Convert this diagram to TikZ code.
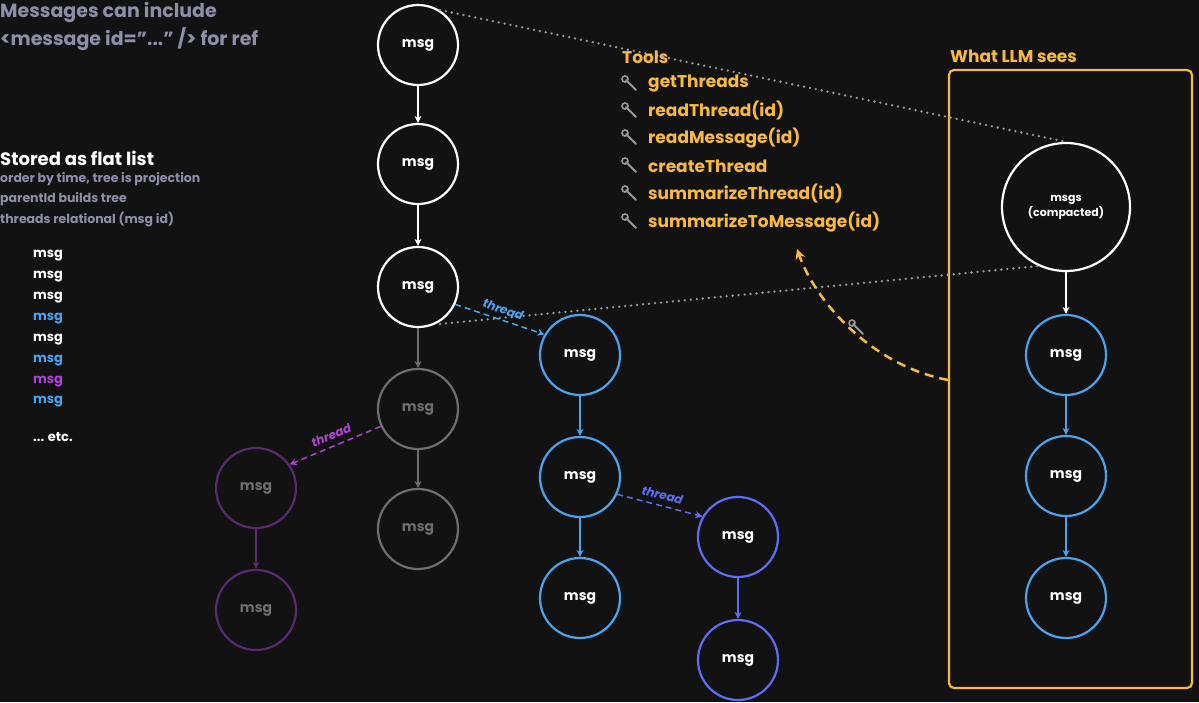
\documentclass[tikz,border=0pt]{standalone}
\usepackage{fontspec}
\setmainfont{Poppins}
\usetikzlibrary{arrows.meta}
\definecolor{bg}{HTML}{121212}
\definecolor{wh}{HTML}{FFFFFF}
\definecolor{gr}{HTML}{6E6E6E}
\definecolor{pu}{HTML}{5A2A6E}
\definecolor{bl}{HTML}{4AA3F0}
\definecolor{ind}{HTML}{5B6EF5}
\definecolor{yl}{HTML}{F9B93A}
\definecolor{sl}{HTML}{8E8EAA}
\definecolor{mg}{HTML}{B040D8}
\begin{document}
\begin{tikzpicture}[x=1pt,y=-1pt,
  m/.style={circle,draw=#1,line width=2.2pt,minimum size=80pt,inner sep=0pt,font=\bfseries\fontsize{14}{16}\selectfont,text=wh,fill=bg},
  ar/.style={draw=#1,line width=1.5pt,-{Stealth[length=7pt,width=7pt]}},
  th/.style={draw=#1,line width=1.5pt,dashed,dash pattern=on 6pt off 4pt,-{Stealth[length=7pt,width=7pt]}},
  dt/.style={draw=gray!80,line width=2.6pt,dash pattern=on 0pt off 6pt,line cap=round},
  tl/.style={font=\bfseries\fontsize{13}{15}\selectfont,text=#1},
  txt/.style={anchor=west,inner sep=0pt},
  wr/.pic={\draw[gray!80,line width=2pt,line cap=round] (-4,-4)--(6,6); \draw[gray!80,line width=1.6pt] (-5,-5) circle (3pt);}]
\fill[bg] (0,0) rectangle (1199,702);
\useasboundingbox (0,0) rectangle (1199,702);
% dotted
\coordinate (d1) at (440,10);
\coordinate (d3) at (440,324);
% yellow box
\draw[yl,line width=2.2pt,rounded corners=5pt] (949,70) rectangle (1192,688);
\node[txt,text=yl,font=\bfseries\fontsize{17}{19}\selectfont] (wls) at (950,56) {What LLM sees};
% nodes
\node[m=wh] (a1) at (418,45) {msg};
\node[m=wh] (a2) at (418,164) {msg};
\node[m=wh] (a3) at (418,287) {msg};
\node[m=gr,text=gr] (g1) at (418,409) {msg};
\node[m=gr,text=gr] (g2) at (418,529) {msg};
\node[m=pu,text=gr] (p1) at (256,488) {msg};
\node[m=pu,text=gr] (p2) at (256,610) {msg};
\node[m=bl] (b1) at (580,355) {msg};
\node[m=bl] (b2) at (580,477) {msg};
\node[m=bl] (b3) at (580,598) {msg};
\node[m=ind] (i1) at (738,537) {msg};
\node[m=ind] (i2) at (738,660) {msg};
\node[m=wh,minimum size=128pt,align=center,font=\bfseries\fontsize{11}{15}\selectfont] (c0) at (1066,207) {msgs\\(compacted)};
\node[m=bl] (c1) at (1066,355) {msg};
\node[m=bl] (c2) at (1066,476) {msg};
\node[m=bl] (c3) at (1066,598) {msg};
\draw[dt] (d1) -- (c0.north);
\draw[dt] (d3) -- (c0.-115);
% arrows
\draw[ar=wh] (a1) -- (a2);
\draw[ar=wh] (a2) -- (a3);
\draw[ar=gr] (a3) -- (g1);
\draw[ar=gr] (g1) -- (g2);
\draw[ar=pu] (p1) -- (p2);
\draw[ar=bl] (b1) -- (b2);
\draw[ar=bl] (b2) -- (b3);
\draw[ar=ind] (i1) -- (i2);
\draw[ar=wh] (c0) -- (c1);
\draw[ar=bl] (c1) -- (c2);
\draw[ar=bl] (c2) -- (c3);
\draw[th=bl] (a3.-25) -- node[sloped,above=2pt,tl=bl,font=\itshape\bfseries\fontsize{12}{14}\selectfont] {thread} (b1.150);
\draw[th=mg] (g1.205) -- node[sloped,above=2pt,tl=mg,font=\itshape\bfseries\fontsize{12}{14}\selectfont] {thread} (p1.35);
\draw[th=ind] (b2.-25) -- node[sloped,above=2pt,tl=ind,font=\itshape\bfseries\fontsize{12}{14}\selectfont] {thread} (i1.150);
% left text
\node[txt,text=sl,align=left,font=\bfseries\fontsize{19}{28}\selectfont,anchor=north west] (t1) at (0,2) {Messages can include\\<message id="..." /> for ref};
\node[txt,text=wh,font=\bfseries\fontsize{18}{20}\selectfont] (t2) at (0,158) {Stored as flat list};
\node[txt,text=sl,align=left,font=\bfseries\fontsize{12.5}{20.5}\selectfont,anchor=north west] (t3) at (0,172) {order by time, tree is projection\\parentId builds tree\\threads relational (msg id)};
\foreach \c/\y [count=\k] in {wh/256,wh/277,wh/298,bl/319,wh/340,bl/361,mg/382,bl/402}
  \node[txt,text=\c,font=\bfseries\fontsize{13}{14}\selectfont] (l\k) at (33,\y) {msg};
\node[txt,text=wh,font=\bfseries\fontsize{13}{14}\selectfont] (etc) at (33,437) {... etc.};
% tools
\node[txt,text=yl,font=\bfseries\fontsize{17}{18}\selectfont] (tools) at (622,57) {Tools};
\foreach \t/\y [count=\k] in {getThreads/84,readThread(id)/111,readMessage(id)/138,createThread/166,summarizeThread(id)/194,summarizeToMessage(id)/222}{
  \node[txt,text=yl,font=\bfseries\fontsize{17}{18}\selectfont] (tt\k) at (648,\y) {\t};
  \pic at (630,\y) {wr};}
% yellow curve
\coordinate (ys) at (948,380);
\coordinate (ye) at (797,249);
\draw[yl,line width=2.5pt,dash pattern=on 9pt off 6pt,-{Stealth[length=10pt,width=10pt]}] (ys) .. controls (870,365) and (815,300) .. (ye);
\pic at (857,328) {wr};
\end{tikzpicture}
\end{document}
